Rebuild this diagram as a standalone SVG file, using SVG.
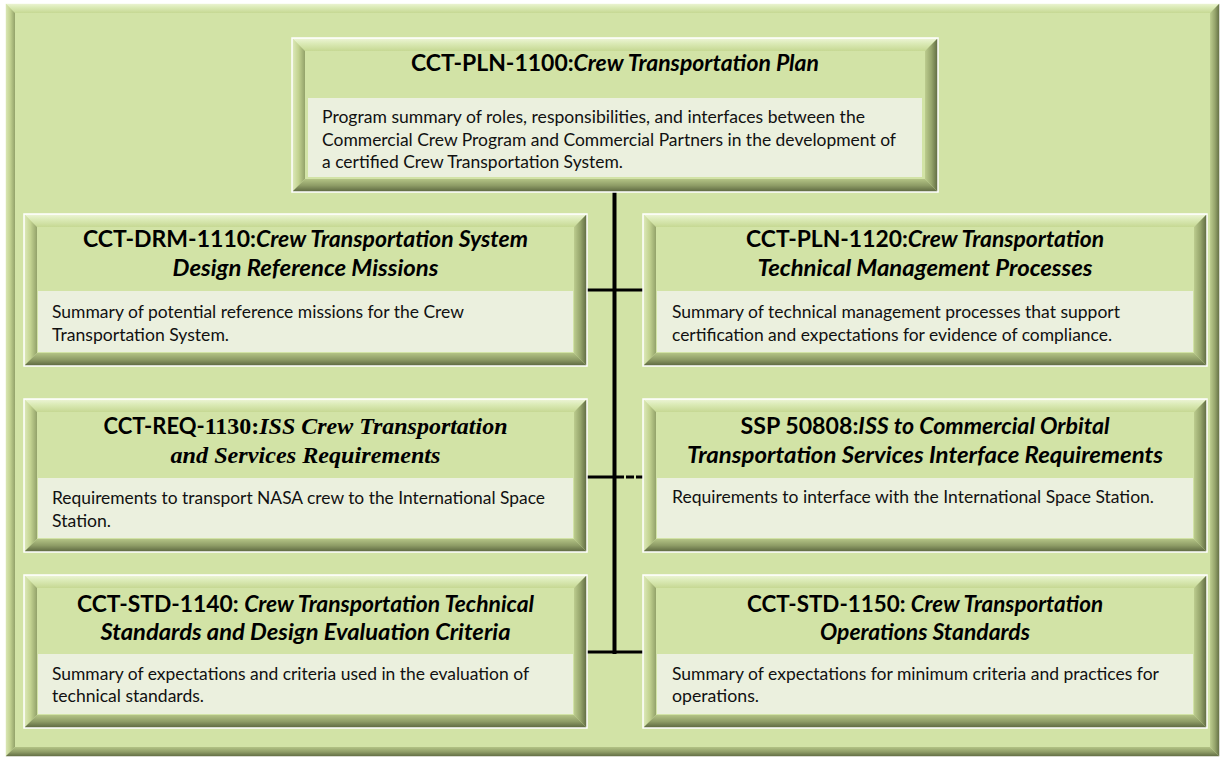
<svg xmlns="http://www.w3.org/2000/svg" width="1225" height="763" viewBox="0 0 1225 763">
<defs>
<linearGradient id="gT" x1="0" y1="0" x2="0" y2="1"><stop offset="0" stop-color="#eef5d8"/><stop offset="0.4" stop-color="#dcebb8"/><stop offset="1" stop-color="#c6d893"/></linearGradient>
<linearGradient id="gL" x1="0" y1="0" x2="1" y2="0"><stop offset="0" stop-color="#dfebbc"/><stop offset="0.5" stop-color="#c3d391"/><stop offset="1" stop-color="#93a26a"/></linearGradient>
<linearGradient id="gR" x1="0" y1="0" x2="1" y2="0"><stop offset="0" stop-color="#bccc8e"/><stop offset="0.5" stop-color="#95a46b"/><stop offset="1" stop-color="#5c673f"/></linearGradient>
<linearGradient id="gB" x1="0" y1="0" x2="0" y2="1"><stop offset="0" stop-color="#b3c385"/><stop offset="0.5" stop-color="#8e9c66"/><stop offset="1" stop-color="#5a653e"/></linearGradient>
<style>
.face{fill:#d2e3a6}
.edge{fill:none;stroke:#ffffff;stroke-width:1.5}
.bt{fill:url(#gT)}
.bl{fill:url(#gL)}
.br{fill:url(#gR)}
.bb{fill:url(#gB)}
.panel{fill:#ebf0de}
.ttl{font-family:Lato,"Liberation Sans",sans-serif;font-weight:bold;font-size:22px;fill:#000}
.it{font-style:italic}
.ser{font-family:"Liberation Serif",serif;font-size:24px;font-weight:bold}
.dsc{font-family:Lato,"Liberation Sans",sans-serif;font-size:16.5px;fill:#111}
.cn{stroke:#000;fill:none}
</style>
</defs>

<g id="frame">
<rect class="face" x="5" y="3" width="1215" height="754"/>
<polygon class="bt" points="5,3 1220,3 1210,13 15,13"/>
<polygon class="bl" points="5,3 15,13 15,747 5,757"/>
<polygon class="br" points="1220,3 1220,757 1210,747 1210,13"/>
<polygon class="bb" points="5,757 15,747 1210,747 1220,757"/>
<rect class="edge" x="5" y="3" width="1215" height="754"/>
</g>

<g id="connectors">
<line class="cn" x1="614.5" y1="192" x2="614.5" y2="654" stroke-width="4"/>
<line class="cn" x1="587" y1="290" x2="643" y2="290" stroke-width="3"/>
<line class="cn" x1="587" y1="477" x2="616" y2="477" stroke-width="3"/>
<line class="cn" x1="616" y1="477" x2="643" y2="477" stroke-width="3" stroke-dasharray="8 2"/>
<line class="cn" x1="587" y1="652" x2="643" y2="652" stroke-width="3"/>
</g>

<g id="n1100">
<rect class="face" x="292" y="38" width="646" height="154"/>
<polygon class="bt" points="292,38 938,38 925,51 305,51"/>
<polygon class="bl" points="292,38 305,51 305,179 292,192"/>
<polygon class="br" points="938,38 938,192 925,179 925,51"/>
<polygon class="bb" points="292,192 305,179 925,179 938,192"/>
<rect class="edge" x="292" y="38" width="646" height="154"/>
<rect class="panel" x="308" y="98" width="614" height="79"/>
<text class="ttl" x="411" y="71" textLength="408" lengthAdjust="spacingAndGlyphs">CCT-PLN-1100:<tspan class="it">Crew Transportation Plan</tspan></text>
<text class="dsc" x="322" y="123" textLength="543" lengthAdjust="spacingAndGlyphs">Program summary of roles, responsibilities, and interfaces between the</text>
<text class="dsc" x="322" y="146" textLength="574" lengthAdjust="spacingAndGlyphs">Commercial Crew Program and Commercial Partners in the development of</text>
<text class="dsc" x="322" y="168" textLength="301" lengthAdjust="spacingAndGlyphs">a certified Crew Transportation System.</text>
</g>

<g id="n1110">
<rect class="face" x="24" y="214" width="563" height="152"/>
<polygon class="bt" points="24,214 587,214 574,227 37,227"/>
<polygon class="bl" points="24,214 37,227 37,353 24,366"/>
<polygon class="br" points="587,214 587,366 574,353 574,227"/>
<polygon class="bb" points="24,366 37,353 574,353 587,366"/>
<rect class="edge" x="24" y="214" width="563" height="152"/>
<rect class="panel" x="38" y="291" width="535" height="61"/>
<text class="ttl" x="83" y="247" textLength="445" lengthAdjust="spacingAndGlyphs">CCT-DRM-1110:<tspan class="it">Crew Transportation System</tspan></text>
<text class="ttl it" x="172.5" y="276" textLength="266" lengthAdjust="spacingAndGlyphs">Design Reference Missions</text>
<text class="dsc" x="52" y="318" textLength="412" lengthAdjust="spacingAndGlyphs">Summary of potential reference missions for the Crew</text>
<text class="dsc" x="52" y="341" textLength="177" lengthAdjust="spacingAndGlyphs">Transportation System.</text>
</g>

<g id="n1120">
<rect class="face" x="643" y="214" width="564" height="152"/>
<polygon class="bt" points="643,214 1207,214 1194,227 656,227"/>
<polygon class="bl" points="643,214 656,227 656,353 643,366"/>
<polygon class="br" points="1207,214 1207,366 1194,353 1194,227"/>
<polygon class="bb" points="643,366 656,353 1194,353 1207,366"/>
<rect class="edge" x="643" y="214" width="564" height="152"/>
<rect class="panel" x="657" y="291" width="536" height="61"/>
<text class="ttl" x="746" y="247" textLength="358" lengthAdjust="spacingAndGlyphs">CCT-PLN-1120:<tspan class="it">Crew Transportation</tspan></text>
<text class="ttl it" x="757.5" y="276" textLength="335" lengthAdjust="spacingAndGlyphs">Technical Management Processes</text>
<text class="dsc" x="672" y="318" textLength="448" lengthAdjust="spacingAndGlyphs">Summary of technical management processes that support</text>
<text class="dsc" x="672" y="341" textLength="440" lengthAdjust="spacingAndGlyphs">certification and expectations for evidence of compliance.</text>
</g>

<g id="n1130">
<rect class="face" x="24" y="399" width="563" height="153"/>
<polygon class="bt" points="24,399 587,399 574,412 37,412"/>
<polygon class="bl" points="24,399 37,412 37,539 24,552"/>
<polygon class="br" points="587,399 587,552 574,539 574,412"/>
<polygon class="bb" points="24,552 37,539 574,539 587,552"/>
<rect class="edge" x="24" y="399" width="563" height="153"/>
<rect class="panel" x="38" y="478" width="535" height="60"/>
<text class="ttl" x="103.5" y="434" textLength="404" lengthAdjust="spacingAndGlyphs">CCT-REQ-<tspan class="ser">1130:</tspan><tspan class="ser it">ISS Crew Transportation</tspan></text>
<text class="ttl ser it" x="170.5" y="463" textLength="270" lengthAdjust="spacingAndGlyphs">and Services Requirements</text>
<text class="dsc" x="52" y="504" textLength="493" lengthAdjust="spacingAndGlyphs">Requirements to transport NASA crew to the International Space</text>
<text class="dsc" x="52" y="527" textLength="59" lengthAdjust="spacingAndGlyphs">Station.</text>
</g>

<g id="n50808">
<rect class="face" x="643" y="399" width="564" height="153"/>
<polygon class="bt" points="643,399 1207,399 1194,412 656,412"/>
<polygon class="bl" points="643,399 656,412 656,539 643,552"/>
<polygon class="br" points="1207,399 1207,552 1194,539 1194,412"/>
<polygon class="bb" points="643,552 656,539 1194,539 1207,552"/>
<rect class="edge" x="643" y="399" width="564" height="153"/>
<rect class="panel" x="657" y="478" width="536" height="60"/>
<text class="ttl" x="740.5" y="434" textLength="369" lengthAdjust="spacingAndGlyphs">SSP 50808:<tspan class="it">ISS to Commercial Orbital</tspan></text>
<text class="ttl it" x="687" y="463" textLength="476" lengthAdjust="spacingAndGlyphs">Transportation Services Interface Requirements</text>
<text class="dsc" x="672" y="503" textLength="482" lengthAdjust="spacingAndGlyphs">Requirements to interface with the International Space Station.</text>
</g>

<g id="n1140">
<rect class="face" x="24" y="575" width="563" height="153"/>
<polygon class="bt" points="24,575 587,575 574,588 37,588"/>
<polygon class="bl" points="24,575 37,588 37,715 24,728"/>
<polygon class="br" points="587,575 587,728 574,715 574,588"/>
<polygon class="bb" points="24,728 37,715 574,715 587,728"/>
<rect class="edge" x="24" y="575" width="563" height="153"/>
<rect class="panel" x="38" y="654" width="535" height="60"/>
<text class="ttl" x="77" y="612" textLength="457" lengthAdjust="spacingAndGlyphs">CCT-STD-1140: <tspan class="it">Crew Transportation Technical</tspan></text>
<text class="ttl it" x="100.5" y="640" textLength="410" lengthAdjust="spacingAndGlyphs">Standards and Design Evaluation Criteria</text>
<text class="dsc" x="52" y="680" textLength="477" lengthAdjust="spacingAndGlyphs">Summary of expectations and criteria used in the evaluation of</text>
<text class="dsc" x="52" y="702" textLength="152" lengthAdjust="spacingAndGlyphs">technical standards.</text>
</g>

<g id="n1150">
<rect class="face" x="643" y="575" width="564" height="153"/>
<polygon class="bt" points="643,575 1207,575 1194,588 656,588"/>
<polygon class="bl" points="643,575 656,588 656,715 643,728"/>
<polygon class="br" points="1207,575 1207,728 1194,715 1194,588"/>
<polygon class="bb" points="643,728 656,715 1194,715 1207,728"/>
<rect class="edge" x="643" y="575" width="564" height="153"/>
<rect class="panel" x="657" y="654" width="536" height="60"/>
<text class="ttl" x="747" y="612" textLength="356" lengthAdjust="spacingAndGlyphs">CCT-STD-1150: <tspan class="it">Crew Transportation</tspan></text>
<text class="ttl it" x="820" y="640" textLength="210" lengthAdjust="spacingAndGlyphs">Operations Standards</text>
<text class="dsc" x="672" y="680" textLength="487" lengthAdjust="spacingAndGlyphs">Summary of expectations for minimum criteria and practices for</text>
<text class="dsc" x="672" y="702" textLength="87" lengthAdjust="spacingAndGlyphs">operations.</text>
</g>
</svg>
